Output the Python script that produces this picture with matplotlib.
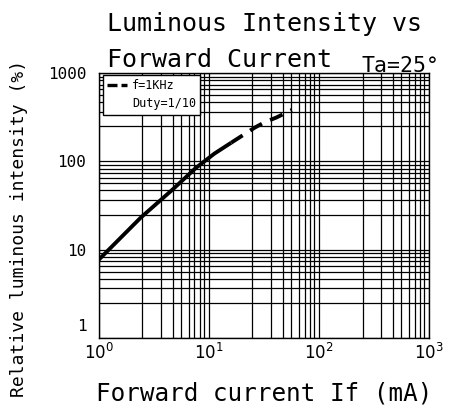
import numpy as np
import matplotlib
matplotlib.use("Agg")
import matplotlib.pyplot as plt
from matplotlib.lines import Line2D
from matplotlib.transforms import ScaledTranslation

# curve
current_solid = [1.0, 2.4, 4.6, 7.6, 11.2, 15.9]
intensity_solid = [7.7, 23, 47, 84, 122, 162]
current_dash = [15.9, 26, 32, 41, 56.5]
intensity_dash = [162, 240, 276, 313, 380]

x_ticks = [1, 10, 100, 1000]
x_labels = ["$10^0$", "$10^1$", "$10^2$", "$10^3$"]
y_ticks = [1, 10, 100, 1000]
y_labels = ["1", "10", "100", "1000"]

# the printed grid is a slightly stretched log ruler
grid_frac = [0.395, 0.56, 0.67, 0.748, 0.815, 0.868, 0.917, 0.957]

plt.rcParams['font.family'] = ['DejaVu Sans Mono', 'DejaVu Sans']
plt.rcParams['mathtext.fontset'] = 'dejavusans'
fig = plt.figure(figsize=(4.58, 4.12), dpi=100)
ax = fig.add_axes([0.216, 0.180, 0.721, 0.643])

ax.plot(current_solid, intensity_solid, color='black', lw=2.8, solid_capstyle='butt')
ax.plot(current_dash, intensity_dash, color='black', lw=2.8, dashes=(3.5, 2.3))

ax.set_xscale('log')
ax.set_yscale('log')
ax.set_xlim(1, 1000)
ax.set_ylim(1, 1000)

minor_x = [10 ** (d + f) for d in range(3) for f in grid_frac]
minor_y = [10 ** (d + f) for d in range(3) for f in grid_frac]
ax.set_xticks(x_ticks)
ax.set_xticklabels(x_labels, fontsize=12)
ax.set_yticks(y_ticks)
ax.set_yticklabels(y_labels, fontsize=11.5)
ax.set_xticks(minor_x, minor=True)
ax.set_yticks(minor_y, minor=True)
ax.tick_params(which='both', length=0)
ax.tick_params(axis='x', pad=4)
ax.tick_params(axis='y', pad=9)
ax.grid(which='both', color='black', lw=0.9)
for s in ax.spines.values():
    s.set_linewidth(1.0)

# the "1" sits a little above the corner in the original
lab1 = ax.yaxis.get_major_ticks()[0].label1
lab1.set_transform(lab1.get_transform() + ScaledTranslation(0, 0.13, fig.dpi_scale_trans))

h1 = Line2D([], [], color='black', lw=2.4, dashes=(3, 1.2))
h2 = Line2D([], [], color='none')
leg = ax.legend([h1, h2], ["f=1KHz", "Duty=1/10"], loc='upper left',
                fontsize=8.5, frameon=True, fancybox=False, framealpha=1,
                edgecolor='black', handlelength=1.7, handletextpad=0.4,
                borderpad=0.35, labelspacing=0.45, borderaxespad=0,
                bbox_to_anchor=(0.012, 0.992))
leg.get_frame().set_linewidth(1.0)

fig.text(107 / 458, 1 - 31 / 412, "Luminous Intensity vs", fontsize=18,
         ha='left', va='baseline')
fig.text(107 / 458, 1 - 67 / 412, "Forward Current", fontsize=18,
         ha='left', va='baseline')
fig.text(362 / 458, 1 - 72 / 412, "Ta=25°", fontsize=15.5, ha='left', va='baseline')
fig.text(19 / 458, 1 - 228 / 412, "Relative luminous intensity (%)", fontsize=13,
         rotation=90, ha='center', va='center')
fig.text(264 / 458, 1 - 400 / 412, "Forward current If (mA)", fontsize=17.5,
         ha='center', va='baseline')

fig.savefig("out.png", dpi=100)
